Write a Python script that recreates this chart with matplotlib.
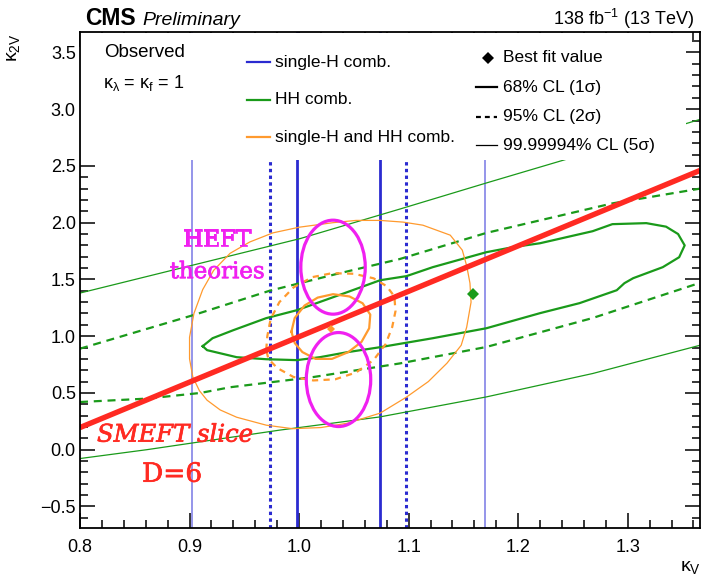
import matplotlib
matplotlib.use("Agg")
import matplotlib.pyplot as plt
import matplotlib.patheffects as pe
from matplotlib.patches import Ellipse, Rectangle
from matplotlib.ticker import MultipleLocator, FuncFormatter

plt.rcParams["font.family"] = ["Liberation Sans", "DejaVu Sans"]
plt.rcParams["mathtext.fontset"] = "custom"
plt.rcParams["mathtext.rm"] = "Liberation Sans"
plt.rcParams["mathtext.it"] = "Liberation Sans:italic"
plt.rcParams["mathtext.bf"] = "Liberation Sans:bold"
plt.rcParams["axes.unicode_minus"] = True

# ---------------- data ----------------
# single-H combination: kappa_V interval bounds (kappa_2V insensitive)
singleH_68 = [0.998, 1.074]
singleH_95 = [0.973, 1.098]
singleH_5s = [0.902, 1.170]

# HH combination contours
hh68_kv = [0.912, 0.921, 0.940, 0.970, 0.998, 1.044, 1.074, 1.098, 1.122, 1.171,
           1.195, 1.220, 1.268, 1.286, 1.317, 1.335, 1.346, 1.352, 1.347, 1.332,
           1.305, 1.297, 1.290, 1.256, 1.220, 1.171, 1.122, 1.074, 1.044, 1.019,
           0.998, 0.970, 0.943, 0.916, 0.912]
hh68_k2v = [0.912, 0.982, 1.053, 1.159, 1.229, 1.388, 1.493, 1.529, 1.608, 1.740,
            1.784, 1.819, 1.925, 1.987, 1.996, 1.965, 1.900, 1.800, 1.696, 1.608,
            1.511, 1.467, 1.405, 1.291, 1.203, 1.070, 0.982, 0.903, 0.859, 0.815,
            0.789, 0.797, 0.815, 0.877, 0.912]

hh95_up_kv = [0.800, 0.905, 0.973, 1.035, 1.092, 1.171, 1.286, 1.366]
hh95_up_k2v = [0.89, 1.19, 1.40, 1.55, 1.68, 1.91, 2.17, 2.30]
hh95_lo_kv = [0.800, 0.861, 0.910, 0.937, 1.013, 1.092, 1.171, 1.268, 1.366]
hh95_lo_k2v = [0.42, 0.45, 0.50, 0.55, 0.64, 0.76, 0.905, 1.16, 1.47]

hh5s_up_kv = [0.800, 1.001, 1.092, 1.171, 1.241, 1.354, 1.366]
hh5s_up_k2v = [1.38, 1.86, 2.12, 2.35, 2.55, 2.875, 2.91]
hh5s_lo_kv = [0.800, 0.861, 0.982, 1.074, 1.171, 1.268, 1.366]
hh5s_lo_k2v = [-0.078, 0.0, 0.172, 0.289, 0.465, 0.671, 0.92]

# single-H + HH combination contours
comb68_kv = [0.993, 0.996, 1.005, 1.017, 1.031, 1.046, 1.058, 1.065, 1.064, 1.057,
             1.045, 1.030, 1.015, 1.003, 0.996, 0.993]
comb68_k2v = [1.04, 1.16, 1.27, 1.34, 1.37, 1.35, 1.29, 1.19, 1.07, 0.95,
              0.86, 0.80, 0.80, 0.86, 0.94, 1.04]

comb95_kv = [0.970, 0.971, 0.974, 0.982, 0.995, 1.012, 1.030, 1.050, 1.068, 1.080,
             1.087, 1.088, 1.085, 1.079, 1.068, 1.052, 1.033, 1.013, 0.995, 0.980,
             0.972, 0.970]
comb95_k2v = [0.88, 1.00, 1.15, 1.30, 1.43, 1.52, 1.555, 1.55, 1.51, 1.44,
              1.35, 1.22, 1.08, 0.93, 0.79, 0.68, 0.62, 0.61, 0.64, 0.72,
              0.80, 0.88]

comb5s_kv = [1.074, 1.052, 1.031, 1.000, 0.976, 0.955, 0.937, 0.922, 0.912, 0.904,
             0.900, 0.900, 0.903, 0.909, 0.916, 0.928, 0.943, 0.970, 0.994, 1.020,
             1.044, 1.074, 1.098, 1.118, 1.135, 1.148, 1.153, 1.157, 1.156, 1.153,
             1.149, 1.138, 1.113, 1.095, 1.074]
comb5s_k2v = [2.02, 2.02, 2.00, 1.96, 1.91, 1.83, 1.73, 1.58, 1.41, 1.20,
              0.99, 0.80, 0.64, 0.52, 0.436, 0.35, 0.286, 0.216, 0.185, 0.195,
              0.233, 0.322, 0.463, 0.60, 0.762, 0.92, 1.079, 1.30, 1.467, 1.62,
              1.758, 1.89, 1.978, 2.005, 2.02]

# best-fit points
bestfit_comb = (1.029, 1.06)
bestfit_hh = (1.159, 1.37)

# SMEFT D=6 slice: kappa_2V along a straight line in kappa_V
smeft_kv = [0.800, 1.366]
smeft_k2v = [0.195, 2.46]

# HEFT illustrative regions: centres and half-axes
heft_kv = [1.031, 1.036]
heft_k2v = [1.608, 0.618]
heft_dkv = [0.0294, 0.0294]
heft_dk2v = [0.414, 0.414]

xlim = (0.8, 1.366)
ylim = (-0.69, 3.68)

# ---------------- styles ----------------
BLUE = "#2b2bd0"
BLUE_THIN = "#8c8ce8"
GREEN = "#1a9a1a"
ORANGE = "#ff9a2e"
RED = "#ff2a22"
MAGENTA = "#f020f0"

W, H = 701, 576
fig = plt.figure(figsize=(W / 100, H / 100), dpi=100)
ax = fig.add_axes([80 / W, (H - 528) / H, 620 / W, 496 / H])
ax.set_xlim(*xlim)
ax.set_ylim(*ylim)

# single-H vertical bounds
for x in singleH_5s:
    ax.axvline(x, color=BLUE_THIN, lw=1.3, zorder=1.5)
for x in singleH_95:
    ax.axvline(x, color=BLUE, lw=2.2, ls=(0, (1.1, 1.1)), zorder=1.6)
for x in singleH_68:
    ax.axvline(x, color=BLUE, lw=2.0, zorder=1.7)

# HH contours
ax.plot(hh5s_up_kv, hh5s_up_k2v, color=GREEN, lw=0.9, zorder=1.8)
ax.plot(hh5s_lo_kv, hh5s_lo_k2v, color=GREEN, lw=0.9, zorder=1.8)
ax.plot(hh95_up_kv, hh95_up_k2v, color=GREEN, lw=1.6, ls=(0, (3.6, 2.6)), zorder=1.8)
ax.plot(hh95_lo_kv, hh95_lo_k2v, color=GREEN, lw=1.6, ls=(0, (3.6, 2.6)), zorder=1.8)
ax.plot(hh68_kv, hh68_k2v, color=GREEN, lw=1.6, zorder=1.8, solid_joinstyle="round")

# combined contours
ax.plot(comb5s_kv, comb5s_k2v, color=ORANGE, lw=0.9, zorder=1.9)
ax.plot(comb95_kv, comb95_k2v, color=ORANGE, lw=1.6, ls=(0, (2.8, 2.4)), zorder=1.9)
ax.plot(comb68_kv, comb68_k2v, color=ORANGE, lw=1.6, zorder=1.9, solid_joinstyle="round")

# SMEFT slice
ax.plot(smeft_kv, smeft_k2v, color=RED, lw=3.9, solid_capstyle="butt", zorder=2.0)

# HEFT regions
for cx, cy, dx, dy in zip(heft_kv, heft_k2v, heft_dkv, heft_dk2v):
    ax.add_patch(Ellipse((cx, cy), 2 * dx, 2 * dy, fill=False, ec=MAGENTA, lw=2.3, zorder=2.1))

# best fits
ax.plot(*bestfit_comb, marker="D", ms=4.5, color=ORANGE, mew=0, zorder=2.2)
ax.plot(*bestfit_hh, marker="D", ms=6.5, color=GREEN, mew=0, zorder=2.2)

# white legend panel
ax.add_patch(Rectangle((xlim[0], 2.55), 1.353 - xlim[0], ylim[1] - 2.55 - 0.005,
                       fc="white", ec="none", zorder=2.3))

# axes, ticks
for s in ax.spines.values():
    s.set_linewidth(1.3)
fmt = FuncFormatter(lambda v, p: f"{v:.1f}".replace("-", "\u2212"))
ax.xaxis.set_major_locator(MultipleLocator(0.1))
ax.xaxis.set_minor_locator(MultipleLocator(0.02))
ax.yaxis.set_major_locator(MultipleLocator(0.5))
ax.yaxis.set_minor_locator(MultipleLocator(0.1))
ax.xaxis.set_major_formatter(fmt)
ax.yaxis.set_major_formatter(fmt)
ax.tick_params(which="both", direction="in", top=True, right=True, width=1.1,
               labelsize=13, colors="black")
ax.tick_params(which="major", length=11)
ax.tick_params(which="minor", length=6)
ax.tick_params(axis="x", pad=8)
ax.tick_params(axis="y", pad=3)

# axis titles
fig.text(13 / W, 1 - 48 / H, r"κ$_{\mathrm{2V}}$", rotation=90, ha="center", va="center", fontsize=14)
fig.text(690 / W, 1 - 567 / H, r"κ$_{\mathrm{V}}$", ha="center", va="center", fontsize=14)

# header
fig.text(85 / W, 1 - 25 / H, "CMS", fontsize=16.5, fontweight="bold", va="baseline")
fig.text(142 / W, 1 - 25 / H, "Preliminary", fontsize=14, style="italic", va="baseline")
fig.text(694 / W, 1 - 25 / H, r"138 fb$^{-1}$ (13 TeV)", fontsize=13, ha="right", va="baseline")

# in-plot labels
T = ax.transAxes
ax.text(0.0387, 0.9577, "Observed", transform=T, fontsize=13.5, va="center", zorder=3)
ax.text(0.037, 0.897, r"κ$_{\mathrm{λ}}$ = κ$_{\mathrm{f}}$ = 1", transform=T, fontsize=13,
        va="center", zorder=3)

legend_left = [("single-H comb.", BLUE, 0.9395),
               ("HH comb.", GREEN, 0.863),
               ("single-H and HH comb.", ORANGE, 0.788)]
for label, col, y in legend_left:
    ax.plot([0.269, 0.306], [y, y], transform=T, color=col, lw=1.6, zorder=3)
    ax.text(0.3145, y, label, transform=T, fontsize=12.5, va="center", zorder=3)

ax.plot([0.658], [0.9476], transform=T, marker="D", ms=6.5, color="black", mew=0, zorder=3)
ax.text(0.682, 0.9476, "Best fit value", transform=T, fontsize=12.5, va="center", zorder=3)
legend_right = [("68% CL (1σ)", "-", 1.6, 0.889),
                ("95% CL (2σ)", (0, (2.2, 1.8)), 1.6, 0.829),
                ("99.99994% CL (5σ)", "-", 0.9, 0.772)]
for label, ls, lw, y in legend_right:
    ax.plot([0.639, 0.672], [y, y], transform=T, color="black", lw=lw, ls=ls, zorder=3)
    ax.text(0.682, y, label, transform=T, fontsize=12.5, va="center", zorder=3)

heft_fx = [pe.withStroke(linewidth=0.5, foreground=MAGENTA)]
smeft_fx = [pe.withStroke(linewidth=0.5, foreground=RED)]
ax.text(0.925, 1.846, "HEFT", color=MAGENTA, fontsize=16.5, family="DejaVu Serif",
        ha="center", va="center", zorder=3, path_effects=heft_fx)
ax.text(0.925, 1.564, "theories", color=MAGENTA, fontsize=16.5, family="DejaVu Serif",
        ha="center", va="center", zorder=3, path_effects=heft_fx)
ax.text(0.8867, 0.128, "SMEFT slice", color=RED, fontsize=17.5, family="DejaVu Serif",
        style="italic", ha="center", va="center", zorder=3, path_effects=smeft_fx)
ax.text(0.884, -0.216, "D=6", color=RED, fontsize=19, family="DejaVu Serif",
        ha="center", va="center", zorder=3, path_effects=smeft_fx)

fig.savefig("out.png", dpi=100)
